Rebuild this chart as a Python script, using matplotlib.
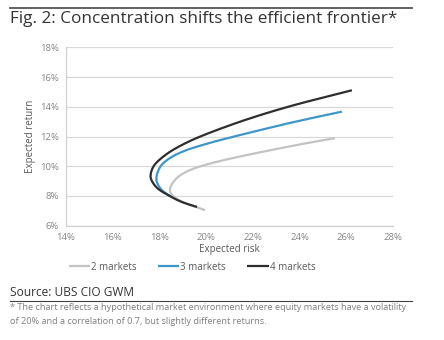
import numpy as np
import matplotlib
matplotlib.use("Agg")
import matplotlib.pyplot as plt
from matplotlib.lines import Line2D
from matplotlib.ticker import FuncFormatter, MultipleLocator

plt.rcParams["font.family"] = ["Open Sans", "DejaVu Sans"]

# frontier points: expected risk (%), expected return (%)
risk_2m = [19.95, 19.3, 18.75, 18.5, 18.45, 18.6, 18.9, 19.4, 20.1, 21.0, 22.1, 23.3, 24.4, 25.52]
ret_2m = [7.05, 7.4, 7.8, 8.15, 8.45, 8.95, 9.4, 9.8, 10.15, 10.5, 10.87, 11.25, 11.58, 11.89]

risk_3m = [18.44, 18.1, 17.9, 17.87, 17.95, 18.1, 18.5, 19.1, 20.0, 21.0, 22.1, 23.5, 24.7, 25.81]
ret_3m = [8.0, 8.4, 8.9, 9.2, 9.7, 10.1, 10.6, 11.05, 11.5, 11.92, 12.35, 12.88, 13.3, 13.67]

risk_4m = [19.61, 18.95, 18.44, 17.93, 17.68, 17.62, 17.75, 18.05, 18.48, 19.05, 19.75, 21.46, 23.51, 26.24]
ret_4m = [7.26, 7.6, 8.0, 8.5, 9.0, 9.35, 10.0, 10.5, 11.0, 11.5, 12.0, 13.0, 14.0, 15.11]

series = [
    ("2 markets", risk_2m, ret_2m, "#c3c3c3"),
    ("3 markets", risk_3m, ret_3m, "#3f97c9"),
    ("4 markets", risk_4m, ret_4m, "#2e2e2e"),
]


def smooth(x, y, n=16):
    """Centripetal Catmull-Rom curve through the points (like a smoothed line)."""
    p = np.column_stack([x, y]).astype(float)
    p = np.vstack([2 * p[0] - p[1], p, 2 * p[-1] - p[-2]])
    out = []
    for i in range(1, len(p) - 2):
        p0, p1, p2, p3 = p[i - 1], p[i], p[i + 1], p[i + 2]
        t0 = 0.0
        t1 = t0 + np.linalg.norm(p1 - p0) ** 0.5
        t2 = t1 + np.linalg.norm(p2 - p1) ** 0.5
        t3 = t2 + np.linalg.norm(p3 - p2) ** 0.5
        t = np.linspace(t1, t2, n, endpoint=False)[:, None]
        a1 = (t1 - t) / (t1 - t0) * p0 + (t - t0) / (t1 - t0) * p1
        a2 = (t2 - t) / (t2 - t1) * p1 + (t - t1) / (t2 - t1) * p2
        a3 = (t3 - t) / (t3 - t2) * p2 + (t - t2) / (t3 - t2) * p3
        b1 = (t2 - t) / (t2 - t0) * a1 + (t - t0) / (t2 - t0) * a2
        b2 = (t3 - t) / (t3 - t1) * a2 + (t - t1) / (t3 - t1) * a3
        out.append((t2 - t) / (t2 - t1) * b1 + (t - t1) / (t2 - t1) * b2)
    out.append(p[-2][None, :])
    c = np.vstack(out)
    return c[:, 0], c[:, 1]


W, H = 444, 340
fig = plt.figure(figsize=(W / 100, H / 100), dpi=100)
ax = fig.add_axes([66 / W, 1 - 225.7 / H, (393 - 66) / W, (225.7 - 47.3) / H])

for label, x, y, color in series:
    sx, sy = smooth(x, y)
    ax.plot(sx, sy, color=color, lw=1.6, label=label, solid_capstyle="butt")

ax.set_xlim(14, 28)
ax.set_ylim(6, 18)
ax.xaxis.set_major_locator(MultipleLocator(2))
ax.yaxis.set_major_locator(MultipleLocator(2))
pct = FuncFormatter(lambda v, _: f"{v:.0f}%")
ax.xaxis.set_major_formatter(pct)
ax.yaxis.set_major_formatter(pct)
ax.grid(axis="y", color="#d9d9d9", lw=0.9)
ax.set_axisbelow(True)
for s in ("top", "right"):
    ax.spines[s].set_visible(False)
for s in ("left", "bottom"):
    ax.spines[s].set_color("#d0d0d0")
    ax.spines[s].set_linewidth(0.9)
ax.tick_params(length=0, labelsize=6.8, colors="#858585", pad=5)
ax.set_xlabel("Expected risk", fontsize=7, color="#595959", labelpad=2)
ax.set_ylabel("Expected return", fontsize=7, color="#595959", labelpad=3)

fig.legend(loc="center", bbox_to_anchor=(192 / W, 1 - 267 / H), ncol=3, frameon=False,
           fontsize=7, handlelength=2.2, handletextpad=0.1, columnspacing=2.2,
           labelcolor="#595959")

# header, source and footnote
fig.add_artist(Line2D([10 / W, 412 / W], [1 - 8 / H, 1 - 8 / H], color="#555555", lw=1.3))
fig.text(10 / W, 1 - 19 / H, "Fig. 2: Concentration shifts the efficient frontier*",
         fontsize=12.35, color="#333333", va="center")
fig.text(10 / W, 1 - 292 / H, "Source: UBS CIO GWM", fontsize=8.6, color="#333333", va="center")
fig.add_artist(Line2D([10 / W, 412 / W], [1 - 301 / H, 1 - 301 / H], color="#444444", lw=0.8))
fig.text(10 / W, 1 - 308 / H,
         "* The chart reflects a hypothetical market environment where equity markets have a volatility",
         fontsize=6.6, color="#7f7f7f", va="center")
fig.text(10 / W, 1 - 321 / H,
         "of 20% and a correlation of 0.7, but slightly different returns.",
         fontsize=6.6, color="#7f7f7f", va="center")

fig.savefig("out.png", dpi=100)
